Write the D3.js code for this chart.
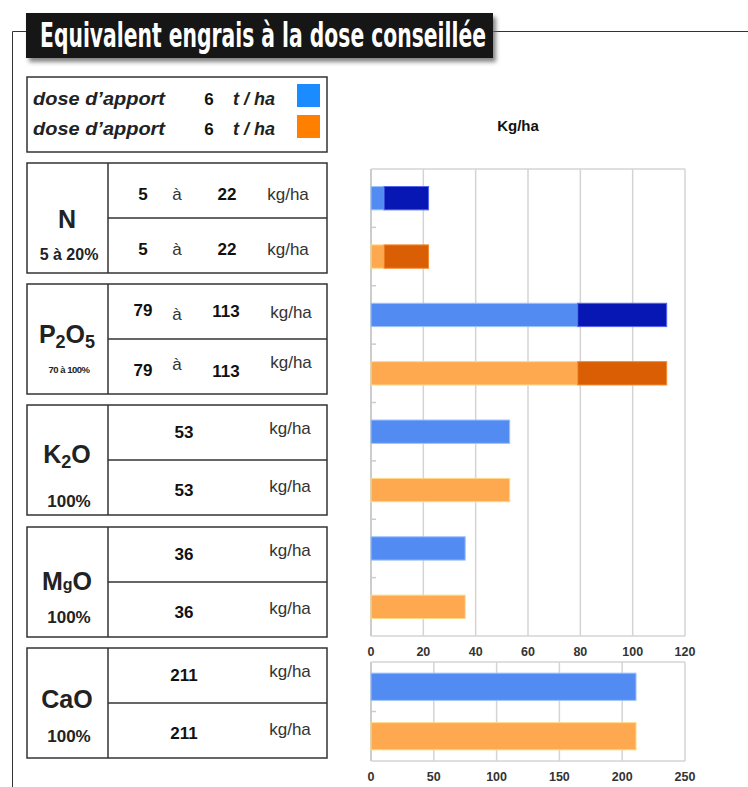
<!DOCTYPE html>
<html>
<head>
<meta charset="utf-8">
<script src="https://cdn.jsdelivr.net/npm/d3@7"></script>
<style>
  body { margin: 0; background: #fff; }
  svg { display: block; font-family: 'Liberation Sans', Arial, sans-serif; }
</style>
</head>
<body>
<div id="chart"></div>
<script>
// data
const nutrients = ['N', 'P2O5', 'K2O', 'MgO', 'CaO'];
const rates = ['5 à 20%', '70 à 100%', '100%', '100%', '100%'];
const minKg = [5, 79, 53, 36, 211];
const maxKg = [22, 113, 53, 36, 211];
const doses = [6, 6];
const ticksTop = [0, 20, 40, 60, 80, 100, 120];
const ticksBottom = [0, 50, 100, 150, 200, 250];

const W = 748, H = 787;
const svg = d3.select('#chart').append('svg').attr('width', W).attr('height', H);

const light = ['#528cf2', '#fea84f'];
const lightStroke = ['#9dc2ff', '#ffd98a'];
const dark = ['#0717b3', '#da5e03'];
const darkStroke = ['#5565ee', '#f48a32'];

// drop shadow for the title
const defs = svg.append('defs');
const f = defs.append('filter').attr('id', 'shadow').attr('x', '-5%').attr('y', '-20%').attr('width', '115%').attr('height', '160%');
f.append('feDropShadow').attr('dx', 3).attr('dy', 4).attr('stdDeviation', 2).attr('flood-color', '#666').attr('flood-opacity', 0.8);

// frame line
svg.append('path')
  .attr('d', 'M12.5,787V31.5H26M493,31.5H748')
  .attr('fill', 'none').attr('stroke', '#333').attr('stroke-width', 1);

// title
svg.append('rect').attr('x', 26).attr('y', 13).attr('width', 467).attr('height', 45)
  .attr('fill', '#141414').attr('filter', 'url(#shadow)');
svg.append('text').attr('x', 40).attr('y', 47)
  .attr('fill', '#fff')
  .style('font-family', "'Liberation Sans Narrow', 'DejaVu Sans Condensed', sans-serif")
  .style('font-weight', 'bold').style('font-size', '33px')
  .attr('textLength', 446).attr('lengthAdjust', 'spacingAndGlyphs')
  .text('Equivalent engrais à la dose conseillée');

// legend box
const boxStroke = '#333';
svg.append('rect').attr('x', 27).attr('y', 77).attr('width', 300).attr('height', 75)
  .attr('fill', 'none').attr('stroke', boxStroke).attr('stroke-width', 1.5);
doses.forEach((d, j) => {
  const by = 105 + j * 30;
  svg.append('text').attr('x', 33).attr('y', by)
    .style('font-style', 'italic').style('font-weight', 'bold').style('font-size', '19px').attr('fill', '#222')
    .attr('textLength', 132).attr('lengthAdjust', 'spacingAndGlyphs')
    .text('dose d’apport');
  svg.append('text').attr('x', 209).attr('y', by).attr('text-anchor', 'middle')
    .style('font-weight', 'bold').style('font-size', '17px').attr('fill', '#111').text(d);
  svg.append('text').attr('x', 233).attr('y', by)
    .style('font-style', 'italic').style('font-weight', 'bold').style('font-size', '18px').attr('fill', '#222')
    .text('t / ha');
  svg.append('rect').attr('x', 297).attr('y', 84 + j * 31).attr('width', 23).attr('height', 23)
    .attr('fill', j === 0 ? '#1a8cff' : '#ff8000');
});

// nutrient tables
const boxTop = [163, 284, 405, 527, 648];
const boxH = 110;
const symbolBase = [228, 343, 463, 590, 708];
const rateBase = [260, 373, 507, 623, 742];

// chemical symbol pieces: [text, font size, dy]
const symbolParts = {
  'N': [['N', 25, 0]],
  'P2O5': [['P', 25, 0], ['2', 18, 5], ['O', 25, -5], ['5', 18, 5]],
  'K2O': [['K', 25, 0], ['2', 18, 5], ['O', 25, -5]],
  'MgO': [['M', 25, 0], ['g', 16, 0], ['O', 25, 0]],
  'CaO': [['CaO', 25, 0]]
};

function symbolText(g, name, x, y) {
  const t = g.append('text').attr('x', x).attr('y', y).attr('text-anchor', 'middle')
    .style('font-weight', 'bold').attr('fill', '#222');
  symbolParts[name].forEach(([s, size, dy]) => {
    t.append('tspan').style('font-size', size + 'px').attr('dy', dy).text(s);
  });
}

nutrients.forEach((n, i) => {
  const g = svg.append('g');
  const top = boxTop[i];
  g.append('rect').attr('x', 27).attr('y', top).attr('width', 300).attr('height', boxH)
    .attr('fill', 'none').attr('stroke', boxStroke).attr('stroke-width', 1.5);
  g.append('line').attr('x1', 108).attr('x2', 108).attr('y1', top).attr('y2', top + boxH)
    .attr('stroke', boxStroke).attr('stroke-width', 1.5);
  g.append('line').attr('x1', 108).attr('x2', 327).attr('y1', top + 55).attr('y2', top + 55)
    .attr('stroke', boxStroke).attr('stroke-width', 1.5);

  symbolText(g, n, 67, symbolBase[i]);
  const small = i === 1;
  g.append('text').attr('x', 69).attr('y', rateBase[i]).attr('text-anchor', 'middle')
    .style('font-weight', 'bold').style('font-size', small ? '9.5px' : (i === 0 ? '16px' : '17px'))
    .style('letter-spacing', small ? '-0.5px' : null)
    .attr('fill', '#222').text(rates[i]);

  doses.forEach((d, j) => {
    const rowTop = top + j * 55;
    if (minKg[i] !== maxKg[i]) {
      const vb = rowTop + (i === 0 ? 37 : (j === 0 ? 32 : 37));
      g.append('text').attr('x', 143).attr('y', vb).attr('text-anchor', 'middle')
        .style('font-weight', 'bold').style('font-size', '17px').attr('fill', '#111').text(minKg[i]);
      g.append('text').attr('x', 177).attr('y', i === 0 ? vb : rowTop + (j === 0 ? 36 : 31)).attr('text-anchor', 'middle')
        .style('font-size', '17px').attr('fill', '#333').text('à');
      g.append('text').attr('x', i === 0 ? 227 : 226).attr('y', i === 0 ? vb : vb + 1).attr('text-anchor', 'middle')
        .style('font-weight', 'bold').style('font-size', '17px').attr('fill', '#111').text(maxKg[i]);
      g.append('text').attr('x', i === 0 ? 288 : 291).attr('y', i === 0 ? vb : rowTop + (j === 0 ? 34 : 29)).attr('text-anchor', 'middle')
        .style('font-size', '17px').attr('fill', '#333').text('kg/ha');
    } else {
      g.append('text').attr('x', 184).attr('y', rowTop + (j === 0 ? 33 : 36)).attr('text-anchor', 'middle')
        .style('font-weight', 'bold').style('font-size', '17px').attr('fill', '#111').text(minKg[i]);
      g.append('text').attr('x', 290).attr('y', rowTop + (j === 0 ? 29 : 32)).attr('text-anchor', 'middle')
        .style('font-size', '17px').attr('fill', '#333').text('kg/ha');
    }
  });
});

// unit label over the charts
svg.append('text').attr('x', 518).attr('y', 131).attr('text-anchor', 'middle')
  .style('font-weight', 'bold').style('font-size', '15px').attr('fill', '#111').text('Kg/ha');

// bar charts
function barChart(idx, domainMax, ticks, yTop, yBottom, padInner, labelY) {
  const rows = [];
  idx.forEach(i => doses.forEach((d, j) => rows.push({ key: nutrients[i] + j, s: j, min: minKg[i], max: maxKg[i] })));

  const x = d3.scaleLinear().domain([0, domainMax]).range([371, 685]);
  const y = d3.scaleBand().domain(rows.map(r => r.key)).range([yTop, yBottom])
    .paddingInner(padInner).paddingOuter(padInner / 2);
  const g = svg.append('g');

  g.selectAll('.grid').data(ticks).enter().append('line')
    .attr('x1', d => x(d)).attr('x2', d => x(d)).attr('y1', yTop).attr('y2', yBottom)
    .attr('stroke', d => d === 0 ? '#bbb' : '#d4d4d4').attr('stroke-width', 1.5);
  g.append('line').attr('x1', x(0)).attr('x2', x(domainMax)).attr('y1', yTop).attr('y2', yTop)
    .attr('stroke', '#d4d4d4').attr('stroke-width', 1.5);
  g.append('line').attr('x1', x(0)).attr('x2', x(domainMax)).attr('y1', yBottom).attr('y2', yBottom)
    .attr('stroke', '#d4d4d4').attr('stroke-width', 1.5);

  // small category ticks on the left axis
  g.selectAll('.ytick').data(d3.range(1, rows.length)).enter().append('line')
    .attr('x1', x(0)).attr('x2', x(0) + 5)
    .attr('y1', k => yTop + k * y.step()).attr('y2', k => yTop + k * y.step())
    .attr('stroke', '#ccc').attr('stroke-width', 1.5);

  g.selectAll('.bar-light').data(rows).enter().append('rect')
    .attr('x', x(0)).attr('y', r => y(r.key))
    .attr('width', r => x(r.min) - x(0)).attr('height', y.bandwidth())
    .attr('fill', r => light[r.s]).attr('stroke', r => lightStroke[r.s]).attr('stroke-width', 1);
  g.selectAll('.bar-dark').data(rows.filter(r => r.max > r.min)).enter().append('rect')
    .attr('x', r => x(r.min)).attr('y', r => y(r.key))
    .attr('width', r => x(r.max) - x(r.min)).attr('height', y.bandwidth())
    .attr('fill', r => dark[r.s]).attr('stroke', r => darkStroke[r.s]).attr('stroke-width', 1);

  g.selectAll('.xlab').data(ticks).enter().append('text')
    .attr('x', d => x(d)).attr('y', labelY).attr('text-anchor', 'middle')
    .style('font-weight', 'bold').style('font-size', '12.5px').attr('fill', '#333')
    .text(d => d);
}

barChart([0, 1, 2, 3], 120, ticksTop, 169, 636, 0.6, 656);
barChart([4], 250, ticksBottom, 662, 761, 0.45, 781);
</script>
</body>
</html>
